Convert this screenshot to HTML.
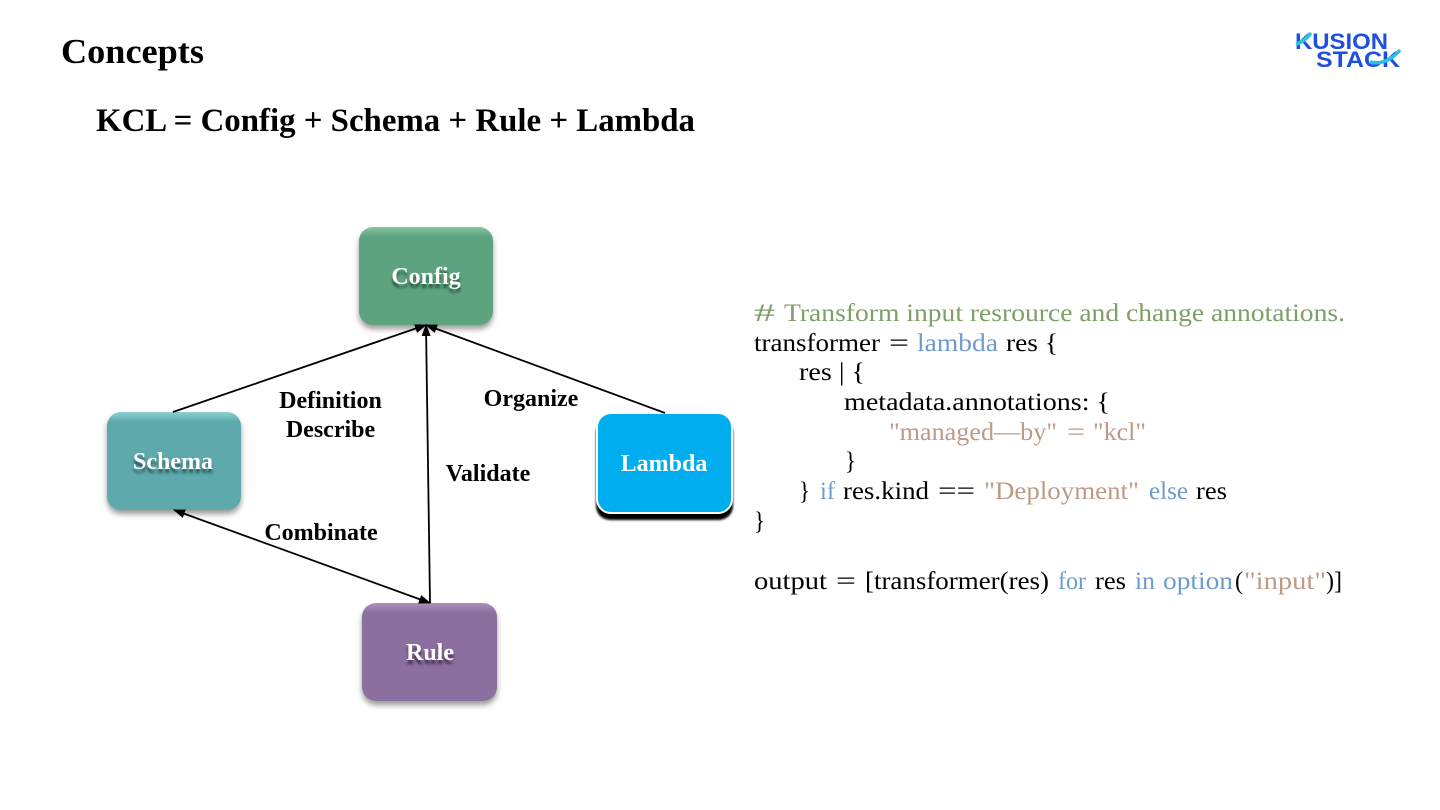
<!DOCTYPE html>
<html>
<head>
<meta charset="utf-8">
<style>
html,body{margin:0;padding:0;background:#fff;width:1440px;height:810px;overflow:hidden}
svg{display:block}
text{font-family:"Liberation Serif",serif}
.t{font-weight:bold;fill:#000}
.l{font-weight:bold;font-size:24px;fill:#000;text-anchor:middle}
.n{font-weight:bold;font-size:24px;fill:#fff;text-anchor:middle}
.c{font-size:25px;fill:#000}
.g{fill:#7f9e68}.b{fill:#6f9bcb}.r{fill:#bd9a85}
</style>
</head>
<body>
<svg width="1440" height="810" viewBox="0 0 1440 810" xmlns="http://www.w3.org/2000/svg">
<defs>
<filter id="sh" x="-20%" y="-20%" width="140%" height="140%"><feGaussianBlur stdDeviation="3"/></filter>
<filter id="sk" x="-10%" y="-10%" width="120%" height="120%"><feGaussianBlur stdDeviation="1"/></filter>
<filter id="ts" x="-20%" y="-50%" width="140%" height="200%"><feGaussianBlur stdDeviation="1.4"/></filter>
<marker id="a" markerWidth="12" markerHeight="9" refX="11" refY="4.5" orient="auto-start-reverse" markerUnits="userSpaceOnUse"><path d="M0 0L12 4.5L0 9Z" fill="#000"/></marker>
<linearGradient id="gc" x1="0" y1="0" x2="0" y2="1"><stop offset="0" stop-color="#86c2a0"/><stop offset=".1" stop-color="#5ea37f"/><stop offset="1" stop-color="#5ea37f"/></linearGradient>
<linearGradient id="gs" x1="0" y1="0" x2="0" y2="1"><stop offset="0" stop-color="#8dd0d0"/><stop offset=".1" stop-color="#5ea9ab"/><stop offset="1" stop-color="#5ea9ab"/></linearGradient>
<linearGradient id="gr" x1="0" y1="0" x2="0" y2="1"><stop offset="0" stop-color="#ab90c0"/><stop offset=".1" stop-color="#8a6f9f"/><stop offset="1" stop-color="#8a6f9f"/></linearGradient>
</defs>

<text class="t" x="61" y="63" font-size="35" textLength="143" lengthAdjust="spacingAndGlyphs">Concepts</text>
<text class="t" x="96" y="131" font-size="33" textLength="599" lengthAdjust="spacingAndGlyphs">KCL = Config + Schema + Rule + Lambda</text>

<!-- logo -->
<g font-weight="bold" fill="#1f4fe0">
<text x="1295" y="49" style="font-family:'Liberation Sans',sans-serif" font-size="22" textLength="93" lengthAdjust="spacingAndGlyphs">KUSION</text>
<text x="1316" y="67" style="font-family:'Liberation Sans',sans-serif" font-size="22" textLength="84" lengthAdjust="spacingAndGlyphs">STACK</text>
</g>
<path d="M1296 44Q1304 42 1311 33" fill="none" stroke="#27c4e0" stroke-width="3.5"/>
<path d="M1370 62Q1386 66 1400 50" fill="none" stroke="#27c4e0" stroke-width="3.5"/>

<!-- nodes -->
<rect x="359" y="231" width="134" height="98" rx="14" fill="#555" opacity=".6" filter="url(#sh)"/>
<rect x="359" y="227" width="134" height="98" rx="14" fill="url(#gc)"/>
<text class="n" x="426" y="288" style="fill:#1d4a33" opacity=".85" filter="url(#ts)">Config</text>
<text class="n" x="426" y="284">Config</text>

<rect x="107" y="416" width="134" height="98" rx="14" fill="#555" opacity=".6" filter="url(#sh)"/>
<rect x="107" y="412" width="134" height="98" rx="14" fill="url(#gs)"/>
<text class="n" x="173" y="473" style="fill:#1f5050" opacity=".85" filter="url(#ts)">Schema</text>
<text class="n" x="173" y="469">Schema</text>

<rect x="362" y="607" width="135" height="98" rx="14" fill="#555" opacity=".6" filter="url(#sh)"/>
<rect x="362" y="603" width="135" height="98" rx="14" fill="url(#gr)"/>
<text class="n" x="430" y="664" style="fill:#3a2848" opacity=".85" filter="url(#ts)">Rule</text>
<text class="n" x="430" y="660">Rule</text>

<rect x="596" y="419" width="137" height="101" rx="14" fill="#000" filter="url(#sk)"/>
<rect x="597" y="413" width="135" height="100" rx="14" fill="#00aeef" stroke="#fff" stroke-width="2"/>
<text class="n" x="664" y="471">Lambda</text>

<!-- connectors -->
<g stroke="#000" stroke-width="1.8" fill="none">
<line x1="173" y1="412" x2="426" y2="325" marker-end="url(#a)"/>
<line x1="665" y1="413" x2="426" y2="325" marker-end="url(#a)"/>
<line x1="430" y1="603" x2="426" y2="325" marker-end="url(#a)"/>
<line x1="174" y1="510" x2="430" y2="603" marker-start="url(#a)" marker-end="url(#a)"/>
</g>

<!-- labels -->
<text class="l" x="330.5" y="408">Definition</text>
<text class="l" x="330.5" y="437">Describe</text>
<text class="l" x="531" y="406">Organize</text>
<text class="l" x="488" y="481">Validate</text>
<text class="l" x="321" y="540">Combinate</text>

<!-- code -->
<text class="c g" x="754" y="321" textLength="21" lengthAdjust="spacingAndGlyphs">#</text>
<text class="c g" x="784" y="321" textLength="561" lengthAdjust="spacingAndGlyphs">Transform input resrource and change annotations.</text>

<text class="c" x="754" y="351" textLength="126" lengthAdjust="spacingAndGlyphs">transformer</text>
<text class="c" x="889" y="351" textLength="20" lengthAdjust="spacingAndGlyphs">=</text>
<text class="c b" x="917" y="351" textLength="81" lengthAdjust="spacingAndGlyphs">lambda</text>
<text class="c" x="1006" y="351" textLength="52" lengthAdjust="spacingAndGlyphs">res {</text>

<text class="c" x="799" y="380" textLength="66" lengthAdjust="spacingAndGlyphs">res | {</text>
<text class="c" x="844" y="410" textLength="266" lengthAdjust="spacingAndGlyphs">metadata.annotations: {</text>
<text class="c r" x="889" y="440" textLength="168" lengthAdjust="spacingAndGlyphs">"managed—by"</text>
<text class="c r" x="1067" y="440" textLength="18" lengthAdjust="spacingAndGlyphs">=</text>
<text class="c r" x="1093" y="440" textLength="53" lengthAdjust="spacingAndGlyphs">"kcl"</text>
<text class="c" x="845" y="469" textLength="11" lengthAdjust="spacingAndGlyphs">}</text>

<text class="c" x="799" y="499" textLength="11" lengthAdjust="spacingAndGlyphs">}</text>
<text class="c b" x="820" y="499" textLength="15" lengthAdjust="spacingAndGlyphs">if</text>
<text class="c" x="843" y="499" textLength="86" lengthAdjust="spacingAndGlyphs">res.kind</text>
<text class="c" x="938" y="499" textLength="37" lengthAdjust="spacingAndGlyphs">==</text>
<text class="c r" x="984" y="499" textLength="155" lengthAdjust="spacingAndGlyphs">"Deployment"</text>
<text class="c b" x="1149" y="499" textLength="39" lengthAdjust="spacingAndGlyphs">else</text>
<text class="c" x="1196" y="499" textLength="31" lengthAdjust="spacingAndGlyphs">res</text>

<text class="c" x="754" y="529" textLength="11" lengthAdjust="spacingAndGlyphs">}</text>

<text class="c" x="754" y="589" textLength="73" lengthAdjust="spacingAndGlyphs">output</text>
<text class="c" x="836" y="589" textLength="20" lengthAdjust="spacingAndGlyphs">=</text>
<text class="c" x="865" y="589" textLength="184" lengthAdjust="spacingAndGlyphs">[transformer(res)</text>
<text class="c b" x="1058" y="589" textLength="28" lengthAdjust="spacingAndGlyphs">for</text>
<text class="c" x="1095" y="589" textLength="31" lengthAdjust="spacingAndGlyphs">res</text>
<text class="c b" x="1135" y="589" textLength="20" lengthAdjust="spacingAndGlyphs">in</text>
<text class="c b" x="1163" y="589" textLength="70" lengthAdjust="spacingAndGlyphs">option</text>
<text class="c" x="1235" y="589" textLength="8" lengthAdjust="spacingAndGlyphs">(</text>
<text class="c r" x="1244" y="589" textLength="82" lengthAdjust="spacingAndGlyphs">"input"</text>
<text class="c" x="1326" y="589" textLength="16" lengthAdjust="spacingAndGlyphs">)]</text>
</svg>
</body>
</html>
